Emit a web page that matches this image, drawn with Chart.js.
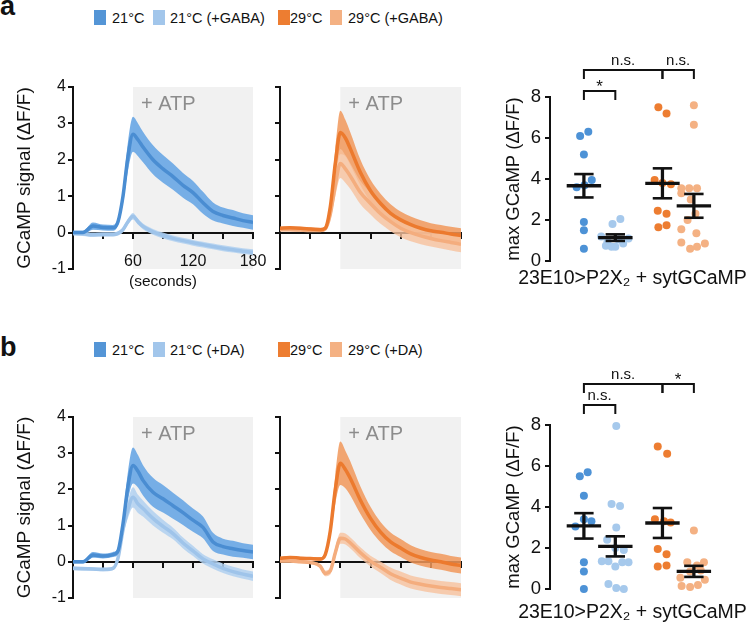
<!DOCTYPE html>
<html>
<head>
<meta charset="utf-8">
<title>GCaMP responses</title>
<script src="https://cdn.jsdelivr.net/npm/chart.js@4.4.1/dist/chart.umd.min.js"></script>
<style>
  html, body { margin: 0; padding: 0; background: #fff; }
  #fig { position: relative; width: 750px; height: 627px; overflow: hidden; background: #fff;
         font-family: "Liberation Sans", Arial, sans-serif; color: #111; }
  #fig canvas { position: absolute; }
  .letter { position: absolute; left: 0; font-size: 27px; font-weight: bold; line-height: 27px; }
  .key { position: absolute; left: 0; width: 500px; height: 16px; font-size: 14.5px; line-height: 16px; white-space: nowrap; }
  .key i { position: absolute; top: 0; width: 12px; height: 15px; }
  .key span { position: absolute; top: 0; }
</style>
</head>
<body>
<div id="fig">
  <div class="letter" style="top:-7px">a</div>
  <div class="letter" style="top:334px">b</div>
  <div class="key" id="keyA" style="top:10px"></div>
  <div class="key" id="keyB" style="top:342px"></div>
  <canvas id="traceA1" width="270" height="240" style="left:0;top:60px"></canvas>
  <canvas id="traceA2" width="200" height="240" style="left:270px;top:60px"></canvas>
  <canvas id="dotsA" width="325" height="260" style="left:470px;top:40px"></canvas>
  <canvas id="traceB1" width="270" height="237" style="left:0;top:390px"></canvas>
  <canvas id="traceB2" width="200" height="237" style="left:270px;top:390px"></canvas>
  <canvas id="dotsB" width="325" height="287" style="left:470px;top:340px"></canvas>
</div>
<script>
// ---- traces: mean and SEM of GCaMP signal (dF/F) ----
const timeSec = [0, 10, 20, 30, 40, 45, 50, 55, 60, 65, 70, 80, 90, 100, 110, 120, 130, 140, 150, 160, 170, 180];
const timeTickLabels = [60, 120, 180];

const a21Mean = [0, 0, 0.18, 0.14, 0.13, 0.3, 1.0, 2.1, 2.7, 2.55, 2.35, 2.0, 1.75, 1.54, 1.3, 1.1, 0.82, 0.58, 0.47, 0.4, 0.33, 0.28];
const a21Sem = [0.05, 0.05, 0.1, 0.08, 0.08, 0.1, 0.2, 0.4, 0.48, 0.45, 0.42, 0.4, 0.38, 0.36, 0.34, 0.32, 0.3, 0.25, 0.22, 0.22, 0.2, 0.2];
const a21GabaMean = [-0.02, -0.03, -0.06, -0.05, -0.05, -0.02, 0.08, 0.3, 0.45, 0.3, 0.17, 0.02, -0.08, -0.16, -0.22, -0.28, -0.33, -0.38, -0.43, -0.47, -0.51, -0.54];
const a21GabaSem = [0.06, 0.06, 0.06, 0.06, 0.06, 0.06, 0.07, 0.08, 0.09, 0.08, 0.08, 0.08, 0.08, 0.08, 0.08, 0.08, 0.08, 0.08, 0.08, 0.08, 0.08, 0.08];
const a29Mean = [0.12, 0.13, 0.12, 0.1, 0.08, 0.12, 0.7, 1.9, 2.75, 2.6, 2.3, 1.65, 1.15, 0.8, 0.53, 0.35, 0.22, 0.12, 0.05, 0.01, -0.04, -0.08];
const a29Sem = [0.04, 0.04, 0.04, 0.05, 0.05, 0.06, 0.15, 0.4, 0.6, 0.5, 0.45, 0.35, 0.3, 0.27, 0.25, 0.23, 0.22, 0.22, 0.21, 0.2, 0.2, 0.2];
const a29GabaMean = [0.08, 0.08, 0.07, 0.06, 0.06, 0.1, 0.5, 1.3, 1.9, 1.75, 1.55, 1.1, 0.8, 0.52, 0.3, 0.12, 0.0, -0.09, -0.16, -0.22, -0.27, -0.32];
const a29GabaSem = [0.04, 0.04, 0.04, 0.04, 0.04, 0.05, 0.15, 0.3, 0.4, 0.38, 0.35, 0.32, 0.3, 0.28, 0.26, 0.25, 0.24, 0.23, 0.22, 0.22, 0.22, 0.22];

const b21Mean = [0, 0, 0.19, 0.16, 0.2, 0.3, 1.05, 2.1, 2.66, 2.5, 2.25, 1.92, 1.74, 1.55, 1.36, 1.15, 0.95, 0.55, 0.42, 0.36, 0.31, 0.27];
const b21Sem = [0.05, 0.05, 0.08, 0.07, 0.07, 0.1, 0.2, 0.4, 0.5, 0.45, 0.42, 0.4, 0.38, 0.36, 0.34, 0.32, 0.3, 0.25, 0.22, 0.22, 0.2, 0.2];
const b21DaMean = [-0.18, -0.19, -0.2, -0.21, -0.18, 0.1, 0.88, 1.45, 1.78, 1.6, 1.47, 1.2, 0.98, 0.78, 0.52, 0.3, 0.08, -0.06, -0.18, -0.27, -0.34, -0.4];
const b21DaSem = [0.05, 0.05, 0.05, 0.05, 0.05, 0.08, 0.15, 0.24, 0.28, 0.25, 0.22, 0.2, 0.18, 0.16, 0.15, 0.14, 0.13, 0.13, 0.13, 0.13, 0.13, 0.13];
const b29Mean = [0.1, 0.12, 0.1, 0.09, 0.08, 0.2, 0.85, 2.0, 2.72, 2.55, 2.3, 1.7, 1.2, 0.82, 0.55, 0.38, 0.22, 0.12, 0.05, 0.0, -0.06, -0.1];
const b29Sem = [0.04, 0.04, 0.04, 0.04, 0.05, 0.06, 0.15, 0.4, 0.6, 0.52, 0.47, 0.38, 0.32, 0.28, 0.26, 0.25, 0.24, 0.23, 0.22, 0.22, 0.22, 0.22];
const b29DaMean = [0.02, 0.02, 0.0, -0.02, -0.12, -0.32, -0.25, 0.25, 0.65, 0.63, 0.52, 0.25, 0.02, -0.15, -0.33, -0.45, -0.56, -0.62, -0.67, -0.71, -0.74, -0.77];
const b29DaSem = [0.04, 0.04, 0.04, 0.04, 0.06, 0.08, 0.1, 0.14, 0.15, 0.15, 0.15, 0.15, 0.15, 0.16, 0.17, 0.18, 0.18, 0.18, 0.18, 0.18, 0.18, 0.18];

// ---- max GCaMP per animal, with jitter offsets in group units ----
const groupPos = [1, 2, 3.5, 4.5];

const aVals21 = [6.3, 6.1, 5.2, 3.95, 3.7, 3.6, 1.9, 1.5, 0.6];
const aJit21 = [0.14, -0.12, 0, 0.25, 0.02, -0.23, 0, 0, 0];
const aVals21Gaba = [2.05, 1.8, 1.2, 1.1, 1.05, 0.95, 0.85, 0.75, 0.7, 0.7];
const aJit21Gaba = [0.16, -0.09, -0.45, 0.42, 0.1, -0.25, 0.25, -0.3, 0.0, -0.12];
const aVals29 = [7.5, 7.2, 3.95, 3.8, 3.75, 2.45, 2.3, 1.75, 1.65];
const aJit29 = [-0.13, 0.13, -0.25, 0.0, 0.27, -0.15, 0.13, 0.13, -0.13];
const aVals29Gaba = [7.6, 6.65, 3.55, 3.55, 3.55, 3.3, 3.0, 2.3, 2.0, 1.55, 1.35, 0.9, 0.85, 0.7, 0.6];
const aJit29Gaba = [0, 0, -0.4, -0.15, 0.1, -0.4, -0.1, 0.05, -0.2, -0.4, 0.08, -0.4, 0.35, 0.1, -0.12];
const aMean = [3.67, 1.14, 3.79, 2.69];
const aSem = [0.57, 0.16, 0.73, 0.58];

const bVals21 = [5.7, 5.5, 4.55, 3.4, 3.3, 3.05, 1.3, 0.85, 0.0];
const bJit21 = [0.12, -0.13, 0, 0.0, 0.24, -0.27, 0, 0, 0];
const bVals21Da = [7.95, 4.15, 4.05, 3.0, 2.4, 2.0, 1.9, 1.35, 1.35, 1.3, 1.3, 1.1, 0.25, 0.05, 0.0];
const bJit21Da = [0.03, -0.12, 0.15, 0.03, -0.26, 0.0, 0.27, -0.43, -0.22, 0.22, 0.42, 0.0, -0.22, 0.03, 0.27];
const bVals29 = [6.95, 6.6, 3.4, 3.3, 3.25, 1.95, 1.7, 1.15, 1.1];
const bJit29 = [-0.15, 0.15, -0.24, 0.05, 0.26, -0.15, 0.13, 0.13, -0.15];
const bVals29Da = [2.85, 1.3, 1.3, 1.15, 0.9, 0.85, 0.55, 0.45, 0.2, 0.15, 0.1];
const bJit29Da = [0, -0.21, 0.32, 0.1, 0.22, -0.12, -0.43, 0.35, 0.13, -0.39, -0.12];
const bMean = [3.08, 2.08, 3.22, 0.86];
const bSem = [0.62, 0.49, 0.73, 0.27];

// comparisons: [from group, to group, label, tier]
const compA = [[0, 2, 'n.s.', 0], [2, 3, 'n.s.', 0], [0, 1, '*', 1]];
const compB = [[0, 2, 'n.s.', 0], [2, 3, '*', 0], [0, 1, 'n.s.', 1]];

const keyLabelsA = ['21°C', '21°C (+GABA)', '29°C', '29°C (+GABA)'];
const keyLabelsB = ['21°C', '21°C (+DA)', '29°C', '29°C (+DA)'];
const traceYTitle = 'GCaMP signal (ΔF/F)';
const dotsYTitle = 'max GCaMP (ΔF/F)';
const dotsXTitle = '23E10>P2X₂ + sytGCaMP';

// ---- styling ----
const FONT = '"Liberation Sans", Arial, sans-serif';
const keyColors = ['#5495d6', '#a2c6eb', '#ed7d31', '#f4b183'];
const dotColors = ['#4d92d6', '#a6c9ec', '#ed7d31', '#f4b183'];
const blue = { line: '#4a8dd2', band: 'rgba(104,166,228,0.9)' };
const lightBlue = { line: '#9fc4ea', band: 'rgba(176,208,240,0.85)' };
const orange = { line: '#ec7a2e', band: 'rgba(241,152,90,0.85)' };
const peach = { line: '#f4ad7e', band: 'rgba(247,194,158,0.8)' };

Chart.defaults.font.family = FONT;
Chart.defaults.color = '#111';
Chart.defaults.animation = false;
Chart.defaults.responsive = false;
Chart.defaults.events = [];
Chart.defaults.plugins.legend.display = false;
Chart.defaults.plugins.tooltip.enabled = false;

function buildKey(id, labels) {
  const sqX = [94, 153, 278, 330];
  const txX = [112, 170, 290, 348];
  document.getElementById(id).innerHTML = labels.map((lab, i) =>
    `<i style="left:${sqX[i]}px;background:${keyColors[i]}"></i><span style="left:${txX[i]}px">${lab}</span>`
  ).join('');
}
buildKey('keyA', keyLabelsA);
buildKey('keyB', keyLabelsB);

// grey ATP window plus its label, painted under axes and traces
const atpShade = {
  id: 'atpShade',
  beforeDraw(chart, args, opts) {
    const { ctx, scales: { x, y } } = chart;
    const left = x.getPixelForValue(opts.from);
    const right = x.getPixelForValue(opts.to);
    const top = y.getPixelForValue(y.max);
    const bottom = y.getPixelForValue(y.min);
    ctx.save();
    ctx.fillStyle = '#f1f1f1';
    ctx.fillRect(left, top, right - left, bottom - top);
    ctx.fillStyle = '#8c8c8c';
    ctx.font = '20px ' + FONT;
    ctx.textBaseline = 'middle';
    ctx.fillText(opts.label, left + 8, top + 17);
    ctx.restore();
  }
};

// significance brackets above the dot plots
const sigBrackets = {
  id: 'sigBrackets',
  afterDraw(chart, args, opts) {
    const { ctx, scales: { x, y } } = chart;
    ctx.save();
    ctx.strokeStyle = '#111';
    ctx.fillStyle = '#111';
    ctx.lineWidth = 2;
    ctx.textAlign = 'center';
    ctx.textBaseline = 'alphabetic';
    opts.comps.forEach(([from, to, label, tier]) => {
      const level = opts.levels[tier];
      const x0 = x.getPixelForValue(groupPos[from]);
      const x1 = x.getPixelForValue(groupPos[to]);
      const yTop = y.getPixelForValue(level);
      const yEnd = y.getPixelForValue(level - opts.drop);
      ctx.beginPath();
      ctx.moveTo(x0, yEnd);
      ctx.lineTo(x0, yTop);
      ctx.lineTo(x1, yTop);
      ctx.lineTo(x1, yEnd);
      ctx.stroke();
      if (label === '*') {
        ctx.font = '17px ' + FONT;
        ctx.fillText(label, (x0 + x1) / 2, yTop + 1);
      } else {
        ctx.font = '15px ' + FONT;
        ctx.fillText(label, (x0 + x1) / 2, yTop - 5);
      }
    });
    ctx.restore();
  }
};

function traceChart(id, series, opt) {
  const datasets = [];
  series.forEach(s => {
    datasets.push({
      data: timeSec.map((t, i) => ({ x: t, y: s.mean[i] + s.sem[i] })),
      fill: '+1', backgroundColor: s.style.band, borderWidth: 0, pointRadius: 0,
      cubicInterpolationMode: 'monotone'
    });
    datasets.push({
      data: timeSec.map((t, i) => ({ x: t, y: s.mean[i] - s.sem[i] })),
      fill: false, borderWidth: 0, pointRadius: 0, cubicInterpolationMode: 'monotone'
    });
  });
  series.slice().reverse().forEach(s => {
    datasets.push({
      data: timeSec.map((t, i) => ({ x: t, y: s.mean[i] })),
      fill: false, borderColor: s.style.line, borderWidth: 3.5, pointRadius: 0,
      cubicInterpolationMode: 'monotone'
    });
  });
  // later datasets sit on top
  datasets.forEach((d, i) => { d.order = datasets.length - i; });

  const scales = {
    x: {
      type: 'linear', min: 0, max: 180, position: { y: 0 },
      border: { color: '#111', width: 2 },
      grid: { drawOnChartArea: false, color: '#111', lineWidth: 2, tickLength: 5 },
      ticks: { display: opt.seconds, stepSize: 30, autoSkip: false, maxRotation: 0, padding: 14.4,
               font: { size: 16 }, callback: v => (timeTickLabels.includes(v) ? String(v) : '') },
      // labels hang below the plot edge; keep them from shrinking the plot
      afterFit: s => { s.paddingLeft = 0; s.paddingRight = 0; }
    },
    y: {
      type: 'linear', min: -1, max: 4,
      border: { color: '#111', width: 2 },
      grid: { drawOnChartArea: false, color: '#111', lineWidth: 2, tickLength: 5 },
      ticks: { display: opt.labels, stepSize: 1, font: { size: 16 }, padding: 2 },
      title: { display: opt.labels, text: traceYTitle, font: { size: 19 }, padding: 0 },
      afterFit: s => { s.width = opt.labels ? 60 : 5; }
    }
  };
  if (opt.seconds) {
    scales.xl = {
      type: 'linear', min: 0, max: 180, position: 'bottom',
      border: { display: false },
      grid: { display: false, drawTicks: false },
      ticks: { display: false },
      title: { display: true, text: '(seconds)', font: { size: 15.5 }, padding: 0 },
      afterFit: s => { s.height = 22; }
    };
  }

  return new Chart(document.getElementById(id), {
    type: 'line',
    data: { datasets },
    options: {
      devicePixelRatio: 1,
      layout: { padding: opt.padding },
      scales,
      plugins: { atpShade: { from: 60, to: 180, label: '+ ATP' } }
    },
    plugins: [atpShade]
  });
}

function dotChart(id, groups, mean, sem, opt) {
  const datasets = [];
  datasets.push({
    type: 'bar',
    data: groupPos.map((p, i) => ({ x: p, y: [mean[i] - sem[i], mean[i] + sem[i]] })),
    backgroundColor: '#111', barThickness: 2.6, clip: false, order: 0
  });
  datasets.push({
    type: 'scatter',
    data: groupPos.flatMap((p, i) => [{ x: p, y: mean[i] + sem[i] }, { x: p, y: mean[i] - sem[i] }]),
    pointStyle: 'line', pointRadius: 9.7, borderColor: '#111', borderWidth: 2.6, clip: false, order: 0
  });
  datasets.push({
    type: 'scatter',
    data: groupPos.map((p, i) => ({ x: p, y: mean[i] })),
    pointStyle: 'line', pointRadius: 17.2, borderColor: '#111', borderWidth: 3.3, clip: false, order: 0
  });
  groups.forEach((g, gi) => {
    datasets.push({
      type: 'scatter',
      data: g.vals.map((v, k) => ({ x: groupPos[gi] + g.jit[k], y: v })),
      pointRadius: 4, backgroundColor: dotColors[gi], borderWidth: 0, clip: false, order: 1
    });
  });

  return new Chart(document.getElementById(id), {
    type: 'scatter',
    data: { datasets },
    options: {
      devicePixelRatio: 1,
      layout: { padding: { left: 0, right: 0, top: opt.top, bottom: 0 } },
      scales: {
        x: { type: 'linear', display: false, offset: false, min: -0.079, max: 7.066 },
        y: {
          type: 'linear', min: 0, max: 8,
          border: { color: '#111', width: 2 },
          grid: { drawOnChartArea: false, color: '#111', lineWidth: 2, tickLength: 5 },
          ticks: { stepSize: 2, font: { size: 18.5 }, padding: 4 },
          title: { display: true, text: dotsYTitle, font: { size: 18.5 }, padding: { top: 33, bottom: 0 } },
          afterFit: s => { s.width = 80; }
        }
      },
      plugins: {
        title: { display: true, position: 'bottom', text: dotsXTitle, color: '#111',
                 font: { size: 19.5, weight: 'normal' }, padding: opt.titlePad },
        sigBrackets: { comps: opt.comps, levels: opt.levels, drop: 0.44 }
      }
    },
    plugins: [sigBrackets]
  });
}

traceChart('traceA1', [
  { mean: a21Mean, sem: a21Sem, style: blue },
  { mean: a21GabaMean, sem: a21GabaSem, style: lightBlue }
], { labels: true, seconds: true, padding: { left: 13, right: 17, top: 27, bottom: 9 } });

traceChart('traceA2', [
  { mean: a29Mean, sem: a29Sem, style: orange },
  { mean: a29GabaMean, sem: a29GabaSem, style: peach }
], { labels: false, seconds: false, padding: { left: 5, right: 9, top: 27, bottom: 31 } });

traceChart('traceB1', [
  { mean: b21Mean, sem: b21Sem, style: blue },
  { mean: b21DaMean, sem: b21DaSem, style: lightBlue }
], { labels: true, seconds: false, padding: { left: 13, right: 17, top: 27, bottom: 29 } });

traceChart('traceB2', [
  { mean: b29Mean, sem: b29Sem, style: orange },
  { mean: b29DaMean, sem: b29DaSem, style: peach }
], { labels: false, seconds: false, padding: { left: 5, right: 9, top: 27, bottom: 29 } });

dotChart('dotsA', [
  { vals: aVals21, jit: aJit21 },
  { vals: aVals21Gaba, jit: aJit21Gaba },
  { vals: aVals29, jit: aJit29 },
  { vals: aVals29Gaba, jit: aJit29Gaba }
], aMean, aSem, { top: 57, titlePad: { top: 6.3, bottom: 9.3 }, comps: compA, levels: [9.32, 8.29] });

dotChart('dotsB', [
  { vals: bVals21, jit: bJit21 },
  { vals: bVals21Da, jit: bJit21Da },
  { vals: bVals29, jit: bJit29 },
  { vals: bVals29Da, jit: bJit29Da }
], bMean, bSem, { top: 85, titlePad: { top: 12.3, bottom: 2.3 }, comps: compB, levels: [10.0, 8.98] });
</script>
</body>
</html>
